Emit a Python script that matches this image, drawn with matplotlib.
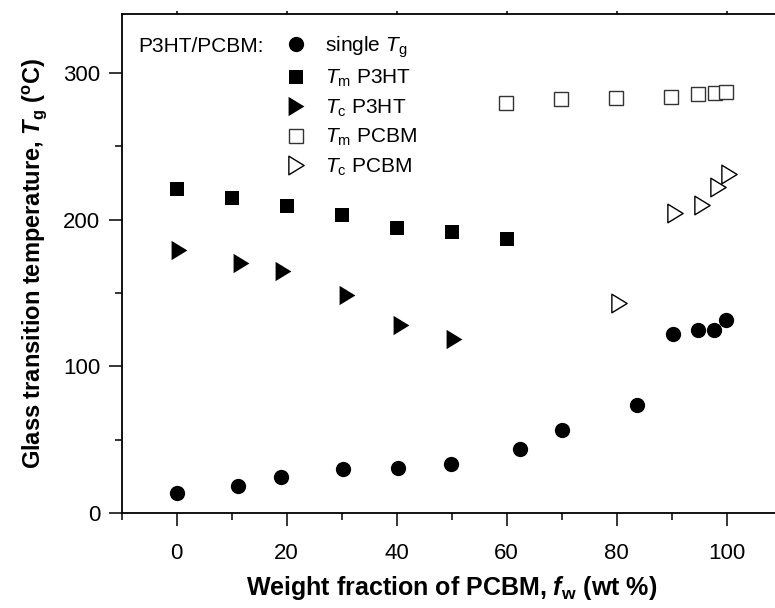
import matplotlib
matplotlib.use("Agg")
import matplotlib.pyplot as plt
from matplotlib.path import Path
from matplotlib.ticker import MultipleLocator

# ---- data ----
fw_single = [0, 11.2, 18.9, 30.3, 40.2, 49.9, 62.5, 70.0, 83.7, 90.3, 94.7, 97.6, 99.9]
tg_single = [13.6, 18.5, 24.9, 29.9, 31.0, 33.5, 43.5, 56.4, 74.0, 121.8, 124.5, 125.0, 131.3]

fw_tm_p3ht = [0, 10, 20, 30, 40, 50, 60]
tm_p3ht = [220.8, 214.4, 209.0, 203.1, 194.3, 191.8, 186.8]

fw_tc_p3ht = [0.5, 11.7, 19.4, 30.9, 40.8, 50.5]
tc_p3ht = [179.5, 170.5, 165.3, 148.8, 128.4, 118.6]

fw_tm_pcbm = [59.9, 69.9, 79.9, 89.9, 94.8, 97.9, 99.9]
tm_pcbm = [279.6, 281.9, 282.6, 283.5, 285.3, 286.0, 286.9]

fw_tc_pcbm = [80.4, 90.6, 95.5, 98.4, 100.4]
tc_pcbm = [143.1, 204.5, 210.1, 222.4, 231.0]

x_ticks = [0, 20, 40, 60, 80, 100]
y_ticks = [0, 100, 200, 300]

labels = [r'single $T_{\mathrm{g}}$', r'$T_{\mathrm{m}}$ P3HT', r'$T_{\mathrm{c}}$ P3HT',
          r'$T_{\mathrm{m}}$ PCBM', r'$T_{\mathrm{c}}$ PCBM']

# ---- style ----
plt.rcParams['font.family'] = ['Liberation Sans', 'DejaVu Sans']
plt.rcParams['mathtext.fontset'] = 'custom'
plt.rcParams['mathtext.rm'] = 'Liberation Sans'
plt.rcParams['mathtext.it'] = 'Liberation Sans:italic'
plt.rcParams['mathtext.bf'] = 'Liberation Sans:bold'
plt.rcParams['mathtext.bfit'] = 'Liberation Sans:bold:italic'

tri = Path([(-0.82, 1.0), (0.82, 0.0), (-0.82, -1.0), (-0.82, 1.0)],
           [Path.MOVETO, Path.LINETO, Path.LINETO, Path.CLOSEPOLY])

W, H = 775, 608
fig = plt.figure(figsize=(W / 100, H / 100), dpi=100)
left, right, bottom, top = 121.7, 781.7, 513.3, 14.0
ax = fig.add_axes([left / W, 1 - bottom / H, (right - left) / W, (bottom - top) / H])

h1, = ax.plot(fw_single, tg_single, 'o', ms=11, color='black', mec='black', mew=0, ls='none')
h2, = ax.plot(fw_tm_p3ht, tm_p3ht, 's', ms=10.3, color='black', mew=0, ls='none')
h3, = ax.plot(fw_tc_p3ht, tc_p3ht, marker=tri, ms=13.9, color='black', mew=0, ls='none')
h4, = ax.plot(fw_tm_pcbm, tm_pcbm, 's', ms=9.6, mfc='white', mec='#333333', mew=1.0, ls='none')
h5, = ax.plot(fw_tc_pcbm, tc_pcbm, marker=tri, ms=13.4, mfc='none', mec='black', mew=1.0, ls='none')

ax.set_xlim(-10, 110)
ax.set_ylim(0, 340)
ax.set_xticks(x_ticks)
ax.set_yticks(y_ticks)
ax.xaxis.set_minor_locator(MultipleLocator(10))
ax.yaxis.set_minor_locator(MultipleLocator(50))
ax.tick_params(which='major', direction='out', length=9.6, width=1.1, labelsize=16, pad=6)
ax.tick_params(which='minor', direction='out', length=5, width=1.1)
ax.tick_params(axis='x', which='major', pad=12)
for s in ax.spines.values():
    s.set_linewidth(1.3)

sec = ax.secondary_xaxis('top')
sec.set_xticks(x_ticks)
sec.tick_params(length=2, width=1.1, labeltop=False)
sec.spines['top'].set_visible(False)

ax.set_xlabel(r'Weight fraction of PCBM, $\mathbfit{f}_{\mathbf{w}}$ (wt %)',
              fontsize=18, fontweight='bold', labelpad=7)
ax.set_ylabel(r'Glass transition temperature, $\mathbfit{T}_{\mathbf{g}}$ ($^{\mathbf{o}}$C)',
              fontsize=17, fontweight='bold', labelpad=10)

leg = ax.legend([h1, h2, h3, h4, h5], labels, loc='upper left',
                bbox_to_anchor=((283 - left) / (right - left), 1 - (34 - top) / (bottom - top)),
                frameon=False, fontsize=15, handlelength=1.2, handletextpad=0.8,
                labelspacing=0.4, borderpad=0, borderaxespad=0, numpoints=1)

ax.text((138 - left) / (right - left), 1 - (46.7 - top) / (bottom - top), 'P3HT/PCBM:',
        transform=ax.transAxes, fontsize=15, va='center', ha='left')

fig.savefig('out.png', dpi=100)
